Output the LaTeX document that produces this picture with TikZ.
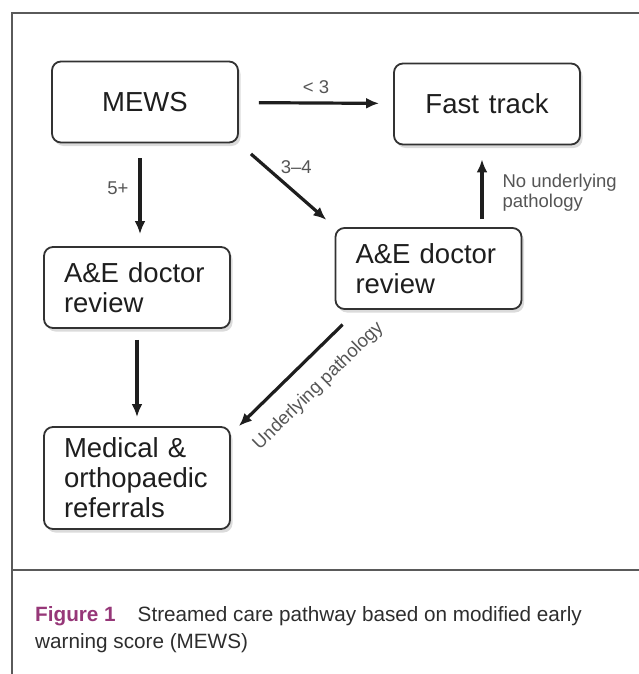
\documentclass[tikz,border=0pt]{standalone}
\usepackage{fontspec}
\setmainfont{Liberation Sans}
\usetikzlibrary{arrows,arrows.meta,calc,positioning,shadows}
\definecolor{boxline}{RGB}{50,50,50}
\definecolor{boxtext}{RGB}{30,30,30}
\definecolor{labgray}{RGB}{85,85,85}
\definecolor{framegray}{RGB}{90,90,90}
\definecolor{captext}{RGB}{45,45,45}
\definecolor{figpurple}{RGB}{150,55,120}
\tikzstyle{na}=[draw=boxline,line width=1.8pt,rounded corners=9pt,fill=white,drop shadow={shadow xshift=2.5pt,shadow yshift=-3.5pt,fill=black!28},text=boxtext,font=\fontsize{27.5}{30}\selectfont,minimum width=186pt,minimum height=81pt,text centered]
\tikzstyle{nb}=[na,text width=146pt,inner xsep=20pt,align=left]
\tikzstyle{lb}=[text=labgray,font=\fontsize{18.5}{20}\selectfont,inner sep=2pt]
\tikzstyle{ar}=[->,line width=3.2pt,draw=boxtext]

\begin{document}
\begin{tikzpicture}[
      >={Latex[length=13pt,width=11pt]},
      auto,
      x=1pt,y=-1pt
    ]
     \useasboundingbox (0,0) rectangle (639,674);
     \draw[framegray,line width=1.2pt] (639,13) -| (12,674);
     \draw[framegray,line width=1.2pt] (12,570) -- (639,570);

     \node [na] (n1) at (145,102) {MEWS};
     \node [na] (n2) [node distance=342pt,right of=n1,yshift=-2pt] {Fast\hspace{10pt}track};
     \node [nb] (n3) [node distance=164.5pt,below of=n2,xshift=-58.5pt] {A\&E doctor\\review};
     \node [nb] (n4) [node distance=185.5pt,below of=n1,xshift=-8pt] {A\&E doctor\\review};
     \node [nb,minimum height=102pt] (n5) [node distance=190.5pt,below of=n4] {Medical \&\\orthopaedic\\referrals};

      \draw[ar,shorten <=20pt,shorten >=14pt] (n1) -- node[lb,yshift=6pt]{< 3} (n2);
      \draw[ar,shorten <=15pt,shorten >=12pt] ([xshift=-5pt]n1.south) -- node[lb,swap,pos=.44,xshift=-8pt]{5+} ([xshift=-5pt]n1.south |- n4.north);
      \draw[ar,shorten <=16pt,shorten >=11pt] (n1.south east) -- node[lb,pos=.4]{3--4} (n3.north west);
      \draw[ar,shorten <=8pt,shorten >=14pt] ([xshift=53.5pt]n3.north) -- node[lb,swap,align=left,xshift=17pt,yshift=-6pt]{No underlying\\pathology} ([xshift=53.5pt]n3.north |- n2.south);
      \draw[ar,shorten <=11pt,shorten >=9pt] (n4) -- (n5);
      \draw[ar,shorten <=21pt] ([xshift=23pt]n3.south west) -- node[lb,sloped,below=15pt,pos=.49]{Underlying pathology} ([xshift=8pt]n5.north east);

     \node[anchor=north west,align=left,inner sep=0pt,text=captext,font=\fontsize{20.7}{27}\selectfont] (cap) at (35,606) {\textcolor{figpurple}{\bfseries Figure 1}\hspace{22pt}Streamed care pathway based on modified early\\warning score (MEWS)};
    \end{tikzpicture}
\end{document}
